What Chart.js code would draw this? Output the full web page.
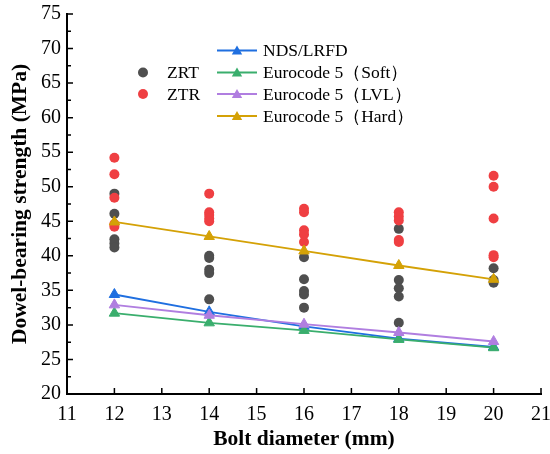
<!DOCTYPE html>
<html lang="en">
<head>
    <meta charset="UTF-8">
    <title>Dowel-bearing strength vs bolt diameter</title>
    <script src="https://cdn.jsdelivr.net/npm/chart.js"></script>
    <style>
        body { margin: 0; background: #fff; }
        canvas { display: block; }
    </style>
</head>
<body>
<canvas id="chart" width="550" height="454"></canvas>
<script>
    // bolt diameters (mm)
    const boltDiameters = [12, 14, 16, 18, 20];

    // measured dowel-bearing strength (MPa), one list per diameter
    const zrtValues = [
        [49.0, 46.1, 42.4, 41.8, 41.2],
        [40.0, 39.7, 38.0, 37.5, 33.7],
        [39.8, 36.6, 34.9, 34.4, 32.5],
        [43.9, 36.5, 35.3, 34.1, 30.3],
        [38.2, 36.5, 36.1]
    ];
    const ztrValues = [
        [54.2, 51.8, 48.4, 44.6, 44.2],
        [49.0, 46.3, 45.9, 45.4, 45.0],
        [46.8, 46.3, 43.7, 43.1, 42.0],
        [46.3, 45.7, 45.1, 42.3, 42.0],
        [51.6, 50.0, 45.4, 40.1, 39.8]
    ];

    // predicted values
    const ndsLrfd = [34.4, 31.9, 29.8, 28.0, 26.8];
    const ec5Soft = [31.7, 30.3, 29.2, 27.9, 26.7];
    const ec5Lvl = [32.9, 31.4, 30.1, 28.9, 27.6];
    const ec5Hard = [44.9, 42.8, 40.7, 38.6, 36.6];

    const xTicks = [11, 12, 13, 14, 15, 16, 17, 18, 19, 20, 21];
    const yTicks = [20, 25, 30, 35, 40, 45, 50, 55, 60, 65, 70, 75];

    const serif = "'Liberation Serif', 'Times New Roman', serif";

    function scatterPoints(groups) {
        const pts = [];
        groups.forEach((vals, i) => vals.forEach(v => pts.push({ x: boltDiameters[i], y: v })));
        return pts;
    }
    function linePoints(vals) {
        return vals.map((v, i) => ({ x: boltDiameters[i], y: v }));
    }

    function lineSet(label, vals, color, order) {
        return {
            label: label,
            data: linePoints(vals),
            showLine: true,
            borderColor: color,
            backgroundColor: color,
            borderWidth: 1.8,
            pointStyle: 'triangle',
            pointRadius: 6,
            pointBorderWidth: 1,
            order: order
        };
    }

    const legendItems = [
        { text: 'ZRT', color: '#4f4f4f', type: 'dot', x: 143, y: 72.5 },
        { text: 'ZTR', color: '#ef3f42', type: 'dot', x: 143, y: 94 },
        { text: 'NDS/LRFD', color: '#1f6fe0', type: 'line', x: 237, y: 50.5 },
        { text: 'Eurocode 5（Soft）', color: '#3aae6d', type: 'line', x: 237, y: 72.5 },
        { text: 'Eurocode 5（LVL）', color: '#b07ee0', type: 'line', x: 237, y: 94 },
        { text: 'Eurocode 5（Hard）', color: '#d4a106', type: 'line', x: 237, y: 116 }
    ];

    function triangle(ctx, x, y, r) {
        ctx.beginPath();
        ctx.moveTo(x, y - r);
        ctx.lineTo(x + r * Math.sin(2 * Math.PI / 3), y + r / 2);
        ctx.lineTo(x - r * Math.sin(2 * Math.PI / 3), y + r / 2);
        ctx.closePath();
        ctx.fill();
    }

    const frameTicks = {
        id: 'frameTicks',
        beforeDatasetsDraw(chart) {
            const ctx = chart.ctx;
            const xs = chart.scales.x, ys = chart.scales.y;
            const area = chart.chartArea;
            ctx.save();
            ctx.strokeStyle = '#000';
            ctx.lineWidth = 1.5;
            ctx.beginPath();
            xTicks.forEach(t => {
                const px = xs.getPixelForValue(t);
                ctx.moveTo(px, area.bottom);
                ctx.lineTo(px, area.bottom - 6);
            });
            for (let v = 20; v <= 75; v += 2.5) {
                const py = ys.getPixelForValue(v);
                const len = (v % 5 === 0) ? 6 : 4;
                ctx.moveTo(area.left, py);
                ctx.lineTo(area.left + len, py);
            }
            ctx.stroke();
            ctx.restore();
        },
        afterDatasetsDraw(chart) {
            const ctx = chart.ctx;
            ctx.save();
            ctx.font = '17.5px ' + serif;
            ctx.textBaseline = 'middle';
            ctx.textAlign = 'left';
            legendItems.forEach(item => {
                ctx.fillStyle = item.color;
                ctx.strokeStyle = item.color;
                if (item.type === 'dot') {
                    ctx.beginPath();
                    ctx.arc(item.x, item.y, 5, 0, Math.PI * 2);
                    ctx.fill();
                    ctx.fillStyle = '#000';
                    ctx.fillText(item.text, item.x + 24, item.y + 1);
                } else {
                    ctx.lineWidth = 1.8;
                    ctx.beginPath();
                    ctx.moveTo(item.x - 20, item.y);
                    ctx.lineTo(item.x + 20, item.y);
                    ctx.stroke();
                    triangle(ctx, item.x, item.y + 1, 6);
                    ctx.fillStyle = '#000';
                    ctx.fillText(item.text, item.x + 26, item.y + 1);
                }
            });
            ctx.restore();
        }
    };

    new Chart(document.getElementById('chart'), {
        type: 'scatter',
        data: {
            datasets: [
                {
                    label: 'ZRT',
                    data: scatterPoints(zrtValues),
                    backgroundColor: '#4f4f4f',
                    borderColor: '#4f4f4f',
                    pointRadius: 5,
                    pointBorderWidth: 0,
                    order: 6
                },
                {
                    label: 'ZTR',
                    data: scatterPoints(ztrValues),
                    backgroundColor: '#ef3f42',
                    borderColor: '#ef3f42',
                    pointRadius: 5,
                    pointBorderWidth: 0,
                    order: 5
                },
                lineSet('NDS/LRFD', ndsLrfd, '#1f6fe0', 4),
                lineSet('Eurocode 5（Soft）', ec5Soft, '#3aae6d', 3),
                lineSet('Eurocode 5（LVL）', ec5Lvl, '#b07ee0', 2),
                lineSet('Eurocode 5（Hard）', ec5Hard, '#d4a106', 1)
            ]
        },
        options: {
            responsive: false,
            animation: false,
            layout: { padding: { top: 14, right: 9, left: 0, bottom: 0 } },
            plugins: {
                legend: { display: false },
                tooltip: { enabled: false }
            },
            scales: {
                x: {
                    type: 'linear',
                    min: 11,
                    max: 21,
                    afterBuildTicks: axis => { axis.ticks = xTicks.map(v => ({ value: v })); },
                    afterFit: axis => { axis.height = 60; axis.paddingLeft = 0; axis.paddingRight = 0; },
                    grid: { display: false, drawTicks: false },
                    border: { display: true, color: '#000', width: 2 },
                    ticks: { color: '#000', padding: 9, font: { family: serif, size: 20 } },
                    title: {
                        display: true,
                        text: 'Bolt diameter (mm)',
                        color: '#000',
                        padding: { top: 0, bottom: 2 },
                        font: { family: serif, size: 21.5, weight: 'bold' }
                    }
                },
                y: {
                    min: 20,
                    max: 75,
                    afterBuildTicks: axis => { axis.ticks = yTicks.map(v => ({ value: v })); },
                    afterFit: axis => { axis.width = 67; axis.paddingTop = 0; axis.paddingBottom = 0; },
                    grid: { display: false, drawTicks: false },
                    border: { display: true, color: '#000', width: 2 },
                    ticks: { color: '#000', padding: 6, font: { family: serif, size: 20 } },
                    title: {
                        display: true,
                        text: 'Dowel-bearing strength (MPa)',
                        color: '#000',
                        padding: { top: 8, bottom: 0 },
                        font: { family: serif, size: 21.5, weight: 'bold' }
                    }
                }
            }
        },
        plugins: [frameTicks]
    });
</script>
</body>
</html>
